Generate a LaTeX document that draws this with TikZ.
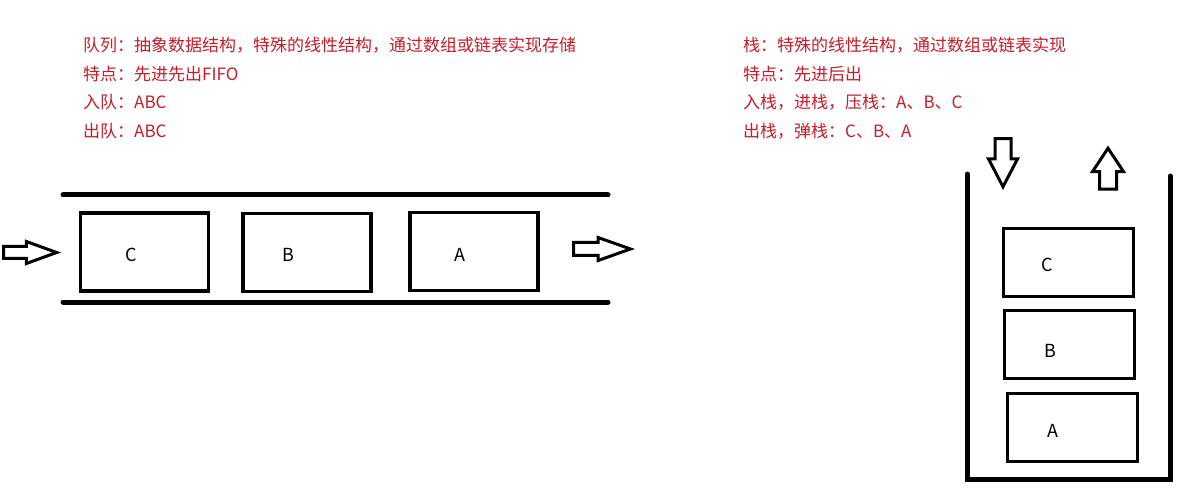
\documentclass[tikz,border=0pt]{standalone}
\usepackage{fontspec}
\setmainfont{Noto Sans CJK SC}
\usetikzlibrary{positioning,shapes.arrows}
\definecolor{notered}{HTML}{C41E2A}
\tikzstyle{note}=[anchor=west, inner sep=0pt, text=notered, font=\fontsize{17}{18}\selectfont]
\tikzstyle{cell}=[draw=black, line width=3.2pt, inner sep=0pt, minimum width=128pt, minimum height=78pt]
\tikzstyle{stackcell}=[cell, minimum width=130pt, minimum height=68pt]
\tikzstyle{letter}=[inner sep=0pt, font=\fontsize{18}{18}\selectfont]
\tikzstyle{wall}=[draw=black, line width=5pt, line cap=round]
\tikzstyle{hollow}=[single arrow, draw=black, line width=3pt, anchor=tip]
\tikzstyle{hollowh}=[hollow, inner xsep=0pt]
\tikzstyle{hollowv}=[hollow, inner ysep=0pt]

\begin{document}
\begin{tikzpicture}[x=1pt, y=-1pt]
    \useasboundingbox (0,0) rectangle (1196,494);

    \def\linedist{28.5}

    % queue notes
    \foreach \txt [count=\i] in {队列：抽象数据结构，特殊的线性结构，通过数组或链表实现存储, 特点：先进先出FIFO, 入队：ABC, 出队：ABC}
        \node[note] (qn\i) at (83,{45.5+(\i-1)*\linedist}) {\txt};

    % stack notes
    \foreach \txt [count=\i] in {栈：特殊的线性结构，通过数组或链表实现, 特点：先进后出, 入栈，进栈，压栈：A、B、C, 出栈，弹栈：C、B、A}
        \node[note] (sn\i) at (743,{45.5+(\i-1)*\linedist}) {\txt};

    % queue pipe
    \draw[wall] (63,195) -- (608,195);
    \draw[wall] (63,302) -- (608,302);

    % queue cells
    \node[cell] (qC) at (144.5,252) {};
    \node[cell] (qB) at (307,252.5) {};
    \node[cell] (qA) at (474,251.5) {};
    \node[letter] (qCl) at (131,255) {C};
    \node[letter] (qBl) at (288,255) {B};
    \node[letter] (qAl) at (460,255) {A};

    % enqueue / dequeue
    \node[hollowh, minimum height=53pt, inner ysep=4.5pt, single arrow head extend=5pt,
          single arrow tip angle=40] (qin) at (61,252.5) {};
    \node[hollowh, minimum height=57pt, inner ysep=5pt, single arrow head extend=5pt,
          single arrow tip angle=39] (qout) at (635,249) {};

    % stack
    \draw[wall] (967.5,174) -- (967.5,479) -- (1170.5,479) -- (1170.5,176);
    \node[stackcell] (sC) at (1068.5,262.5) {};
    \node[stackcell] (sB) at (1069.5,344.5) {};
    \node[stackcell] (sA) at (1072.5,427.5) {};
    \node[letter] (sCl) at (1047,265) {C};
    \node[letter] (sBl) at (1050,351) {B};
    \node[letter] (sAl) at (1053,431) {A};

    % push / pop
    \node[hollowv, minimum height=48pt, inner xsep=6.5pt, single arrow head extend=6.5pt,
          single arrow tip angle=55, shape border rotate=270] (push) at (1003,190) {};
    \node[hollowv, minimum height=41pt, inner xsep=7pt, single arrow head extend=7pt,
          single arrow tip angle=67, shape border rotate=90] (pop) at (1108,145.5) {};

\end{tikzpicture}
\end{document}
